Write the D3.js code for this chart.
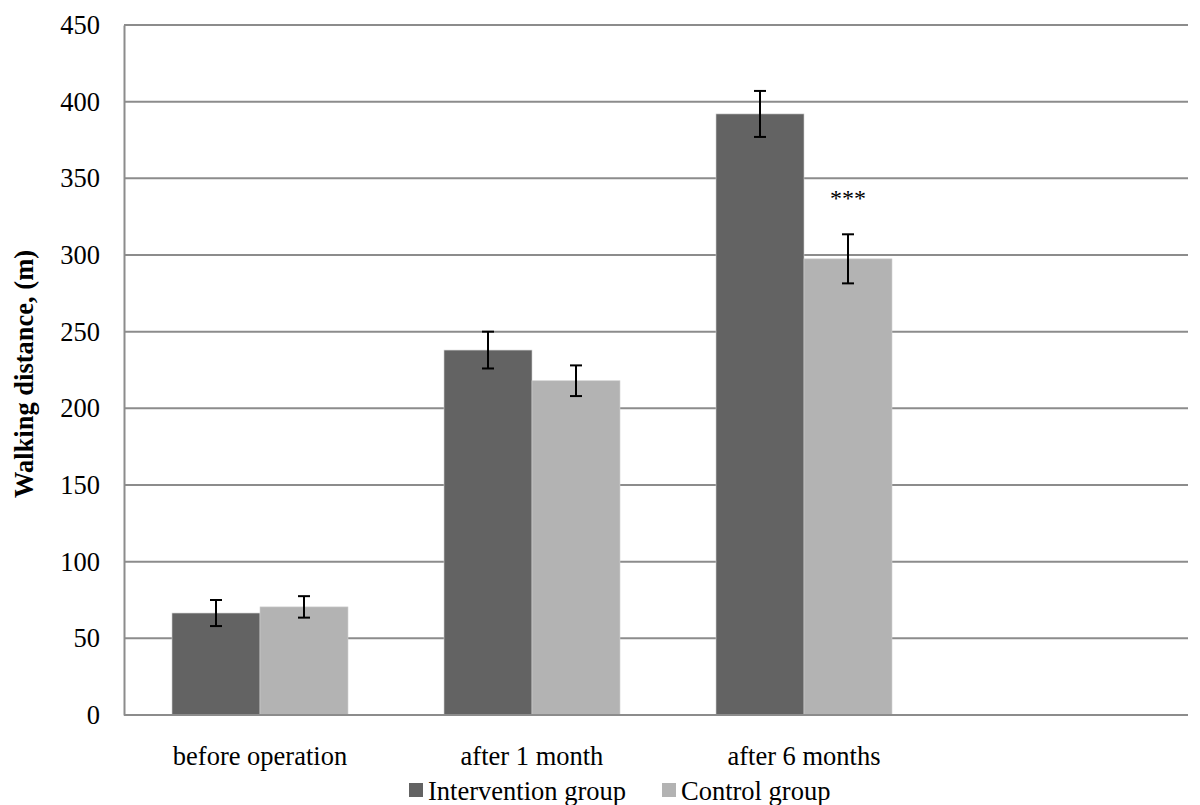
<!DOCTYPE html>
<html>
<head>
<meta charset="utf-8">
<script src="https://cdn.jsdelivr.net/npm/d3@7"></script>
<style>
  body { margin: 0; background: #fff; }
  text { font-family: "Liberation Serif", "Times New Roman", serif; fill: #000; }
</style>
</head>
<body>
<div id="chart"></div>
<script>
const categories = ["before operation", "after 1 month", "after 6 months"];
const seriesNames = ["Intervention group", "Control group"];
const interventionValues = [66.5, 238, 392];
const interventionErrors = [8.5, 12, 15];
const controlValues = [70.5, 218, 297.5];
const controlErrors = [7, 10, 16];
const yTicks = [0, 50, 100, 150, 200, 250, 300, 350, 400, 450];
const seriesColors = ["#636363", "#b3b3b3"];

const width = 1200, height = 805;
const plotLeft = 124, plotRight = 1188, plotTop = 25, plotBottom = 715;
const fontSize = "26.5px";

const svg = d3.select("#chart").append("svg")
    .attr("width", width)
    .attr("height", height);

const y = d3.scaleLinear().domain([0, 450]).range([plotBottom, plotTop]);

// categories occupy the left part of the plot, like the original
const x0 = d3.scaleBand()
    .domain(categories)
    .range([plotLeft, plotLeft + 816])
    .paddingInner(0.353)
    .paddingOuter(0.1765);

const x1 = d3.scaleBand()
    .domain(seriesNames)
    .range([0, x0.bandwidth()]);

// gridlines
svg.append("g")
    .selectAll("line")
    .data(yTicks.filter(d => d > 0))
    .enter().append("line")
    .attr("x1", plotLeft)
    .attr("x2", plotRight)
    .attr("y1", d => y(d))
    .attr("y2", d => y(d))
    .attr("stroke", "#8c8c8c")
    .attr("stroke-width", 2);

// y axis
const yAxis = svg.append("g")
    .attr("transform", `translate(${plotLeft},0)`)
    .call(d3.axisLeft(y).tickValues(yTicks).tickSize(0).tickPadding(24));
yAxis.select(".domain").attr("stroke", "#8c8c8c").attr("stroke-width", 2);
yAxis.selectAll("text")
    .style("font-size", fontSize)
    .style("font-family", "'Liberation Serif', serif");

const rows = categories.map((c, i) => ({
    cat: c,
    vals: [
        { name: seriesNames[0], v: interventionValues[i], e: interventionErrors[i], color: seriesColors[0] },
        { name: seriesNames[1], v: controlValues[i], e: controlErrors[i], color: seriesColors[1] }
    ]
}));

const groups = svg.append("g")
    .selectAll("g")
    .data(rows)
    .enter().append("g")
    .attr("transform", d => `translate(${x0(d.cat)},0)`);

groups.selectAll("rect")
    .data(d => d.vals)
    .enter().append("rect")
    .attr("x", d => x1(d.name))
    .attr("width", x1.bandwidth())
    .attr("y", d => y(d.v))
    .attr("height", d => y(0) - y(d.v))
    .attr("fill", d => d.color)
    .attr("stroke", "#d0d0d0")
    .attr("stroke-width", 0.6);

// error bars
const err = groups.selectAll("g.err")
    .data(d => d.vals)
    .enter().append("g")
    .attr("class", "err")
    .attr("stroke", "#000")
    .attr("stroke-width", 2);

err.append("line")
    .attr("x1", d => x1(d.name) + x1.bandwidth() / 2)
    .attr("x2", d => x1(d.name) + x1.bandwidth() / 2)
    .attr("y1", d => y(d.v + d.e))
    .attr("y2", d => y(d.v - d.e));
[1, -1].forEach(s => {
    err.append("line")
        .attr("x1", d => x1(d.name) + x1.bandwidth() / 2 - 6)
        .attr("x2", d => x1(d.name) + x1.bandwidth() / 2 + 6)
        .attr("y1", d => y(d.v + s * d.e))
        .attr("y2", d => y(d.v + s * d.e));
});

// significance mark over last control bar
const lastCat = categories[2];
svg.append("text")
    .attr("x", x0(lastCat) + x1(seriesNames[1]) + x1.bandwidth() / 2)
    .attr("y", y(controlValues[2] + controlErrors[2]) - 28)
    .attr("text-anchor", "middle")
    .style("font-size", "24px")
    .text("***");

// x axis line
svg.append("line")
    .attr("x1", plotLeft)
    .attr("x2", plotRight)
    .attr("y1", y(0))
    .attr("y2", y(0))
    .attr("stroke", "#8c8c8c")
    .attr("stroke-width", 2);

// category labels
svg.append("g")
    .selectAll("text")
    .data(categories)
    .enter().append("text")
    .attr("x", d => x0(d) + x0.bandwidth() / 2)
    .attr("y", 765)
    .attr("text-anchor", "middle")
    .style("font-size", fontSize)
    .text(d => d);

// y title
svg.append("text")
    .attr("transform", `translate(33,${(plotTop + plotBottom) / 2 + 4}) rotate(-90)`)
    .attr("text-anchor", "middle")
    .style("font-size", fontSize)
    .style("font-weight", "bold")
    .text("Walking distance, (m)");

// legend
const legendX = [409, 662];
const legend = svg.append("g")
    .selectAll("g")
    .data(seriesNames)
    .enter().append("g")
    .attr("transform", (d, i) => `translate(${legendX[i]},783)`);
legend.append("rect")
    .attr("width", 14)
    .attr("height", 14)
    .attr("fill", (d, i) => seriesColors[i]);
legend.append("text")
    .attr("x", 19)
    .attr("y", 17)
    .style("font-size", fontSize)
    .text(d => d);
</script>
</body>
</html>
